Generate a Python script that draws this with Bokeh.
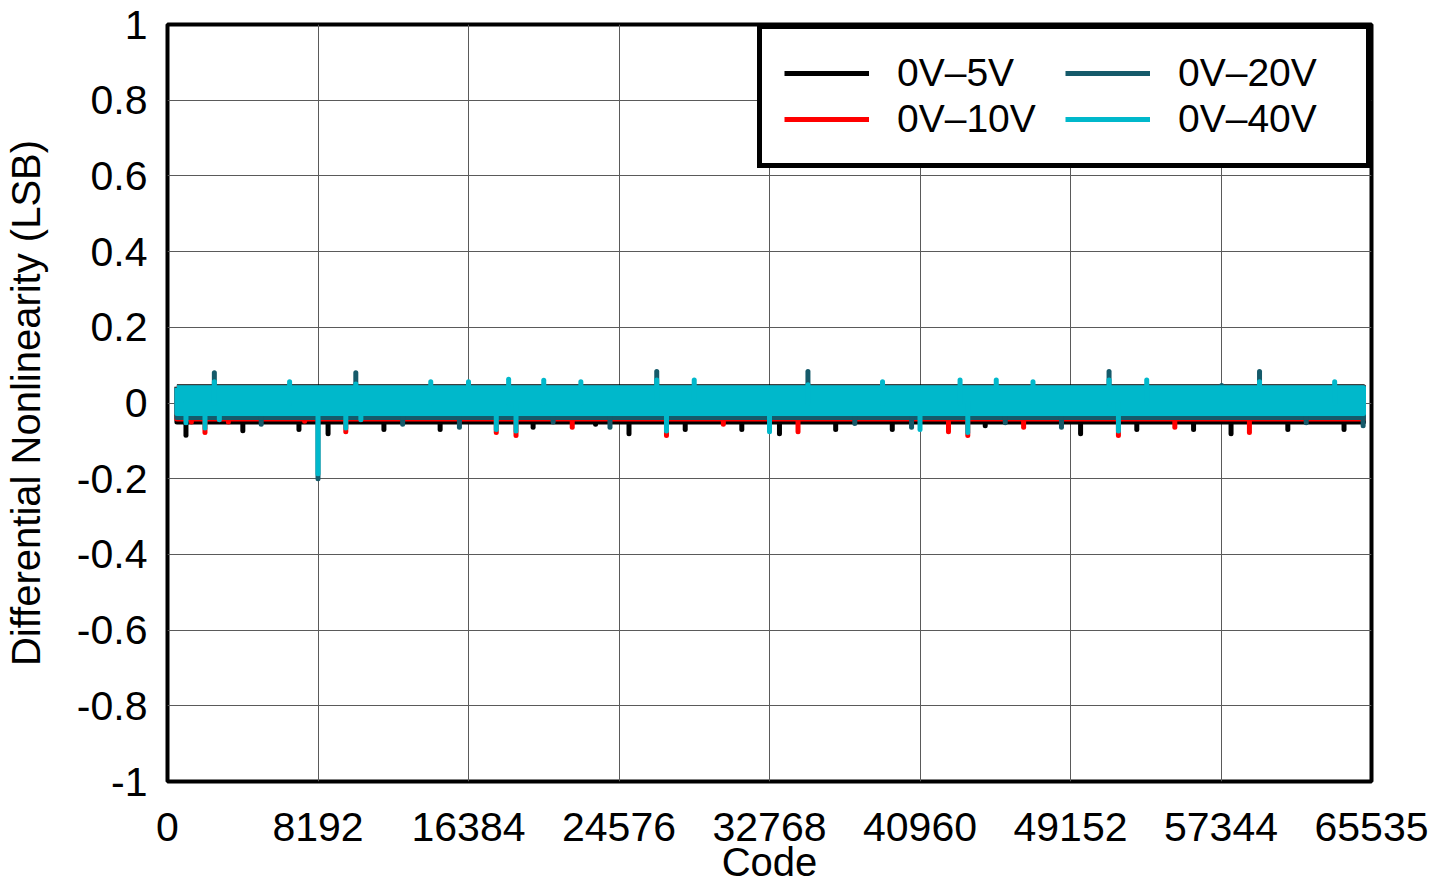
from bokeh.plotting import figure
from bokeh.models import Range1d, FixedTicker, Legend, LegendItem
from bokeh.embed import file_html
from bokeh.resources import INLINE

# ---------------- data ----------------
series_names = ["0V–5V", "0V–10V", "0V–20V", "0V–40V"]
series_colors = ["#000000", "#FF0000", "#155A6A", "#00B8CB"]

# dense noise band of every series: first and last code, upper / lower envelope (LSB)
band_codes = [512, 65100]
band_hi = [0.043, 0.040, 0.040, 0.040]
band_lo = [-0.050, -0.042, -0.038, -0.028]

# isolated DNL spikes per series
spike_codes_5v = [1005, 4100, 7155, 8740, 11780, 14840, 19900, 23300, 25120, 28180, 31260,
                  33310, 36370, 39450, 44510, 49700, 52760, 55850, 57890, 60980, 64040]
spike_dnl_5v = [-0.085, -0.073, -0.070, -0.081, -0.070, -0.070, -0.064, -0.056, -0.081, -0.070, -0.070,
                -0.081, -0.070, -0.070, -0.060, -0.081, -0.070, -0.070, -0.081, -0.070, -0.070]

spike_codes_10v = [1300, 2040, 3315, 7465, 9705, 17895, 18970, 22030, 27160, 30255, 34320,
                   42510, 43560, 46600, 51760, 54830, 58890]
spike_dnl_10v = [-0.050, -0.078, -0.050, -0.048, -0.076, -0.078, -0.086, -0.064, -0.086, -0.056, -0.076,
                 -0.076, -0.086, -0.064, -0.086, -0.064, -0.078]

spike_codes_20v = [2550, 5100, 8192, 10250, 12800, 15890, 20990, 24085, 26630, 34860, 37410,
                   40500, 45600, 48660, 51250, 57380, 59440, 61980, 65080]
spike_dnl_20v = [0.080, -0.056, -0.200, 0.080, -0.056, -0.064, -0.050, -0.064, 0.083, 0.083, -0.054,
                 -0.064, -0.052, -0.064, 0.083, 0.046, 0.083, -0.052, -0.060]

spike_codes_40v = [1005, 2040, 2550, 2822, 6646, 8192, 9705, 10250, 10525, 14330, 16384,
                   17895, 18568, 18970, 20480, 22500, 26630, 27160, 28670, 32768, 34860,
                   38920, 40960, 43140, 43560, 45110, 47110, 51250, 51760, 53300, 59440, 63530]
spike_dnl_40v = [-0.052, -0.066, 0.056, -0.044, 0.056, -0.187, -0.066, 0.050, -0.044, 0.056, 0.056,
                 -0.070, 0.063, -0.074, 0.060, 0.056, 0.061, -0.074, 0.061, -0.076, 0.048,
                 0.056, -0.070, 0.061, -0.078, 0.061, 0.056, 0.061, -0.074, 0.061, 0.056, 0.056]

spike_codes = [spike_codes_5v, spike_codes_10v, spike_codes_20v, spike_codes_40v]
spike_dnl = [spike_dnl_5v, spike_dnl_10v, spike_dnl_20v, spike_dnl_40v]

x_ticks = [0, 8192, 16384, 24576, 32768, 40960, 49152, 57344, 65535]
x_tick_labels = ["0", "8192", "16384", "24576", "32768", "40960", "49152", "57344", "65535"]
y_ticks = [-1, -0.8, -0.6, -0.4, -0.2, 0, 0.2, 0.4, 0.6, 0.8, 1]
y_tick_labels = ["-1", "-0.8", "-0.6", "-0.4", "-0.2", "0", "0.2", "0.4", "0.6", "0.8", "1"]

FONT = "Liberation Sans"

# ---------------- figure ----------------
p = figure(width=1428, height=886,
           min_border_left=160, min_border_right=57, min_border_top=24, min_border_bottom=105,
           x_range=Range1d(0, 65535), y_range=Range1d(-1, 1),
           output_backend="svg", toolbar_location=None,
           background_fill_color="white", border_fill_color="white")

p.outline_line_color = "black"
p.outline_line_width = 4

p.xaxis.ticker = FixedTicker(ticks=x_ticks)
p.yaxis.ticker = FixedTicker(ticks=y_ticks)
p.xaxis.major_label_overrides = {t: s for t, s in zip(x_ticks, x_tick_labels)}
p.yaxis.major_label_overrides = {t: s for t, s in zip(y_ticks, y_tick_labels)}
p.xgrid.ticker = FixedTicker(ticks=x_ticks)
p.ygrid.ticker = FixedTicker(ticks=y_ticks)
for g in (p.xgrid, p.ygrid):
    g.grid_line_color = "#5a5a5a"
    g.grid_line_width = 1

for ax in (p.xaxis, p.yaxis):
    ax.axis_line_color = None
    ax.major_tick_line_color = None
    ax.minor_tick_line_color = None
    ax.major_tick_out = 0
    ax.major_tick_in = 0
    ax.major_label_text_font = FONT
    ax.major_label_text_font_size = "41px"
    ax.major_label_text_color = "black"
    ax.axis_label_text_font = FONT
    ax.axis_label_text_font_size = "40px"
    ax.axis_label_text_font_style = "normal"
    ax.axis_label_text_color = "black"

p.xaxis.axis_label = "Code"
p.yaxis.axis_label = "Differential Nonlinearity (LSB)"
p.xaxis.major_label_standoff = 31
p.yaxis.major_label_standoff = 20
p.xaxis.axis_label_standoff = -4
p.yaxis.axis_label_standoff = 26

# ---------------- glyphs ----------------
legend_items = []
for i in range(4):
    c = series_colors[i]
    s, e = band_codes
    p.patch(x=[s, e, e, s], y=[band_hi[i], band_hi[i], band_lo[i], band_lo[i]],
            fill_color=c, line_color=None)
    edge = p.line(x=[s, e, e, s, s], y=[band_hi[i], band_hi[i], band_lo[i], band_lo[i], band_hi[i]],
                  line_color=c, line_width=5, line_join="round")
    codes = spike_codes[i]
    p.segment(x0=codes, y0=[0] * len(codes), x1=codes, y1=spike_dnl[i],
              line_color=c, line_width=5, line_cap="round")
    legend_items.append(LegendItem(label=series_names[i], renderers=[edge]))

legend = Legend(items=legend_items, location="top_right", ncols=2, margin=0,
                padding=22, spacing=2, glyph_width=85, glyph_height=44, label_height=44,
                label_standoff=28, label_width=166,
                label_text_font=FONT, label_text_font_size="39px", label_text_color="black",
                border_line_color="black", border_line_width=5, border_line_alpha=1.0,
                background_fill_color="white", background_fill_alpha=1.0)
p.add_layout(legend, "center")

open("out.html", "w").write(file_html(p, INLINE))
